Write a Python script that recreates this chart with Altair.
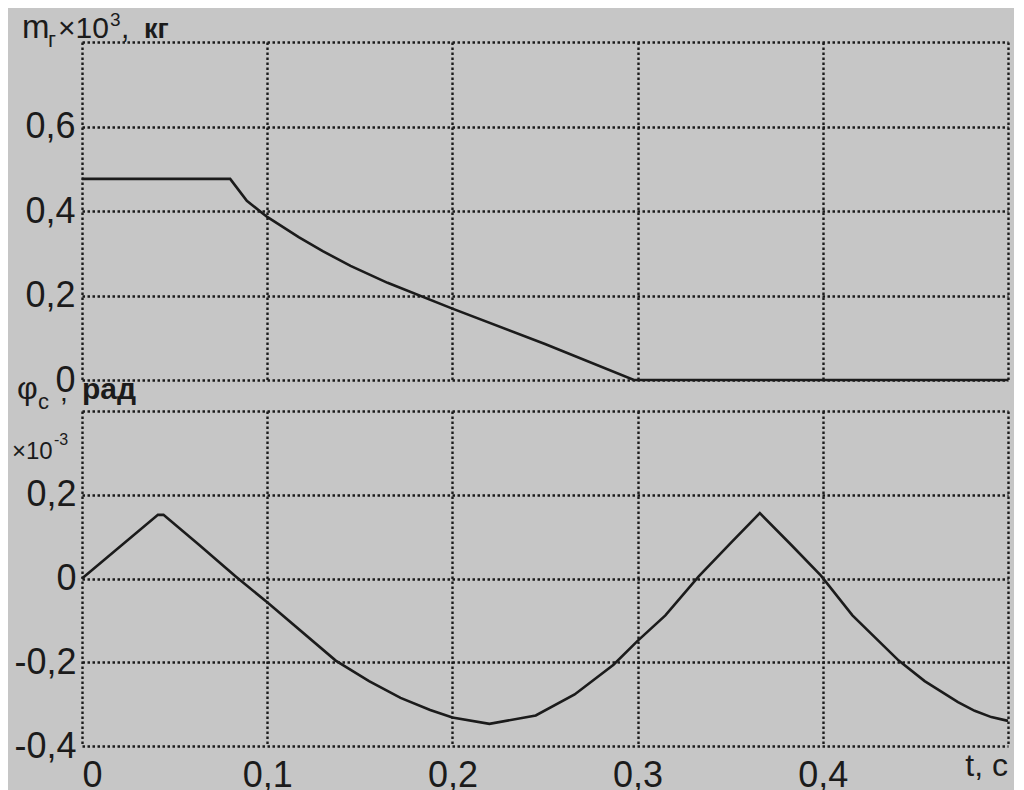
import altair as alt
import pandas as pd

# --- data ---
t_mass = [0, 0.08, 0.089, 0.1, 0.117, 0.13, 0.145, 0.165, 0.2, 0.25, 0.298, 0.5]
m_mass = [0.476, 0.476, 0.424, 0.386, 0.338, 0.305, 0.27, 0.23, 0.169, 0.085, 0.0, 0.0]

t_phi = [0, 0.041, 0.044, 0.063, 0.083, 0.1, 0.137, 0.155, 0.172, 0.188, 0.2, 0.22,
         0.245, 0.266, 0.287, 0.3, 0.315, 0.333, 0.351, 0.366, 0.383, 0.399, 0.416,
         0.441, 0.455, 0.464, 0.473, 0.482, 0.491, 0.5]
phi = [0, 0.152, 0.152, 0.081, 0.005, -0.057, -0.196, -0.245, -0.285, -0.314, -0.332, -0.347,
       -0.327, -0.277, -0.206, -0.149, -0.088, 0.005, 0.088, 0.156, 0.08, 0.007, -0.088,
       -0.196, -0.245, -0.27, -0.295, -0.316, -0.331, -0.34]

x_ticks = [0, 0.1, 0.2, 0.3, 0.4, 0.5]
y_ticks_top = [0, 0.2, 0.4, 0.6, 0.8]
y_ticks_bot = [-0.4, -0.2, 0, 0.2, 0.4]

W, H1, H2 = 926, 338, 335
FONT = "Liberation Sans"
INK = "#1b1b1b"

df_m = pd.DataFrame({"t": t_mass, "m": m_mass})
df_p = pd.DataFrame({"t": t_phi, "phi": phi})

num = "(datum.value < 0 ? '-' : '') + (datum.value == 0 ? '0' : replace(format(abs(datum.value), '.1f'), '.', ','))"

x_scale = alt.Scale(domain=[0, 0.5], nice=False, zero=False)

grid_axis = dict(grid=True, gridDash=[2.5, 2.5], gridColor=INK, gridWidth=2.4, gridOpacity=1,
                 domain=False, ticks=False, tickSize=0, labelFont=FONT, labelFontSize=36,
                 labelColor=INK, title=None)


def txt(s, x, y, size, align="left", weight="normal"):
    return alt.Chart(pd.DataFrame({"s": [s]})).mark_text(
        font=FONT, fontSize=size, color=INK, align=align, baseline="alphabetic",
        fontWeight=weight
    ).encode(x=alt.value(x), y=alt.value(y), text="s:N")


# ---- top panel ----
top_line = alt.Chart(df_m).mark_line(color=INK, strokeWidth=2.6).encode(
    x=alt.X("t:Q", scale=x_scale,
            axis=alt.Axis(values=x_ticks, labels=False, **grid_axis)),
    y=alt.Y("m:Q", scale=alt.Scale(domain=[0, 0.8], nice=False),
            axis=alt.Axis(values=y_ticks_top, labelPadding=7, labelBaseline="middle",
                          labelExpr="datum.value > 0.7 ? '' : " + num, **grid_axis)),
)

top_title = [
    txt("m", -60, -4, 33),
    txt("г", -34, 5, 22),
    txt("×10", -24, -4, 30),
    txt("3", 28, -16, 19),
    txt(",", 39, -4, 30),
    txt("кг", 62, -4, 27, weight="bold"),
]
top = alt.layer(top_line, *top_title).properties(width=W, height=H1)

# ---- bottom panel ----
bot_line = alt.Chart(df_p).mark_line(color=INK, strokeWidth=2.6).encode(
    x=alt.X("t:Q", scale=x_scale,
            axis=alt.Axis(values=x_ticks, labelPadding=12, labelBaseline="top", labelFlush=True,
                          labelExpr="datum.value > 0.45 ? '' : " + num, **grid_axis)),
    y=alt.Y("phi:Q", scale=alt.Scale(domain=[-0.4, 0.4], nice=False),
            axis=alt.Axis(values=y_ticks_bot, labelPadding=6, labelBaseline="middle",
                          labelExpr="datum.value > 0.3 ? '' : " + num, **grid_axis)),
)

bot_text = [
    txt("φ", -65, -12, 32),
    txt("c", -44, -2, 22),
    txt(",", -22, -10, 28),
    txt("рад", 0, -12, 30, weight="bold"),
    txt("×10", -70, 48, 24),
    txt("-3", -28, 34, 16),
    txt("t, c", W, H2 + 30, 32, align="right"),
]
bottom = alt.layer(bot_line, *bot_text).properties(width=W, height=H2)

chart = alt.vconcat(top, bottom, spacing=31, bounds="flush").properties(
    background="#c6c6c6",
    padding={"left": 4, "top": 3, "right": 0, "bottom": 0},
).configure_view(stroke=None)

chart.save("out.html", embed_options={"renderer": "svg", "actions": False})
